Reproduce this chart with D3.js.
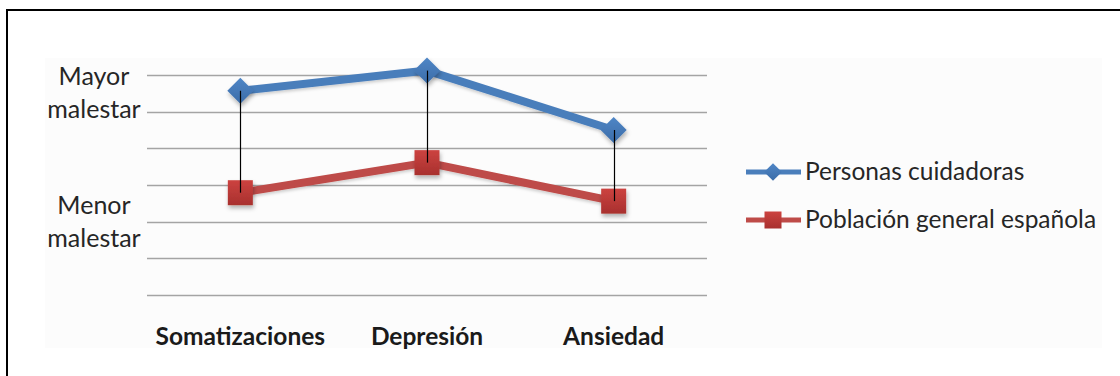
<!DOCTYPE html>
<html>
<head>
<meta charset="utf-8">
<script src="https://cdn.jsdelivr.net/npm/d3@7"></script>
<style>
  html, body { margin: 0; padding: 0; background: #fff; }
  svg { display: block; }
  text { font-family: Lato, "Open Sans", sans-serif; }
</style>
</head>
<body>
<svg id="chart" width="1120" height="376"></svg>
<script>
// Categories along the x axis
const categories = ["Somatizaciones", "Depresión", "Ansiedad"];
// Series values (relative distress level, in gridline units)
const cuidadoras = [5.57, 6.12, 4.5];
const poblacion = [2.79, 3.61, 2.56];
const seriesNames = ["Personas cuidadoras", "Población general española"];
// Gridline positions on the value axis
const gridValues = [0, 1, 2, 3, 4, 5, 6];
// Qualitative axis labels and the level each one sits at
const levelLabels = [["Mayor", "malestar"], ["Menor", "malestar"]];
const levelValues = [5.5, 2];

const svg = d3.select("#chart");
const W = 1120, H = 376;

const x = d3.scalePoint().domain(categories).range([147, 707]).padding(0.5);
const y = d3.scaleLinear().domain([0, 6]).range([295, 75]);

const blue = "#4a7ebb", red = "#be4b48";

const defs = svg.append("defs");
const shadow = defs.append("filter").attr("id", "shadow")
  .attr("x", "-50%").attr("y", "-50%").attr("width", "200%").attr("height", "200%");
shadow.append("feDropShadow").attr("dx", 1).attr("dy", 3).attr("stdDeviation", 2)
  .attr("flood-color", "#000").attr("flood-opacity", 0.3);
const lineShadow = defs.append("filter").attr("id", "lineShadow")
  .attr("x", "-10%").attr("y", "-50%").attr("width", "120%").attr("height", "200%");
lineShadow.append("feDropShadow").attr("dx", 0).attr("dy", 2).attr("stdDeviation", 1.5)
  .attr("flood-color", "#000").attr("flood-opacity", 0.18);

const gBlue = defs.append("linearGradient").attr("id", "gBlue").attr("x1", 0).attr("y1", 0).attr("x2", 0).attr("y2", 1);
gBlue.append("stop").attr("offset", "0%").attr("stop-color", "#4f86c6");
gBlue.append("stop").attr("offset", "100%").attr("stop-color", "#3b6ca8");
const gRed = defs.append("linearGradient").attr("id", "gRed").attr("x1", 0).attr("y1", 0).attr("x2", 0).attr("y2", 1);
gRed.append("stop").attr("offset", "0%").attr("stop-color", "#cc4340");
gRed.append("stop").attr("offset", "100%").attr("stop-color", "#a8302e");

// chart area background
svg.append("rect").attr("x", 45).attr("y", 58).attr("width", 1057).attr("height", 290)
  .attr("fill", "#fcfcfc");

// outer frame (top and left edges)
svg.append("path").attr("d", `M7,${H} V10 H${W}`)
  .attr("fill", "none").attr("stroke", "#000").attr("stroke-width", 2);

// horizontal gridlines
svg.append("g").selectAll("line").data(gridValues).join("line")
  .attr("x1", 147).attr("x2", 707)
  .attr("y1", d => Math.round(y(d)) + 0.5).attr("y2", d => Math.round(y(d)) + 0.5)
  .attr("stroke", "#a4a4a4").attr("stroke-width", 1.4);

// category axis labels
svg.append("g").selectAll("text").data(categories).join("text")
  .attr("x", d => x(d)).attr("y", 345)
  .attr("text-anchor", "middle")
  .attr("font-weight", "bold").attr("font-size", 24.5)
  .attr("fill", "#1a1a1a")
  .text(d => d);

// level labels on the value axis
const lvl = svg.append("g").selectAll("text").data(levelLabels).join("text")
  .attr("text-anchor", "middle").attr("font-size", 25).attr("fill", "#262626")
  .attr("y", (d, i) => y(levelValues[i]) - 8);
lvl.selectAll("tspan").data(d => d).join("tspan")
  .attr("x", 94).attr("dy", (d, i) => i === 0 ? 0 : 33)
  .text(d => d);

const series = [
  { name: seriesNames[0], values: cuidadoras, color: blue, fill: "url(#gBlue)", shape: "diamond" },
  { name: seriesNames[1], values: poblacion, color: red, fill: "url(#gRed)", shape: "square" }
];

const line = d3.line().x((d, i) => x(categories[i])).y(d => y(d));

function marker(g, shape, fill) {
  if (shape === "diamond") {
    g.append("path").attr("d", "M0,-13 L13,0 L0,13 L-13,0 Z").attr("fill", fill);
  } else {
    g.append("rect").attr("x", -12.5).attr("y", -12.5).attr("width", 25).attr("height", 25)
      .attr("fill", fill);
  }
}

series.forEach(s => {
  svg.append("path").datum(s.values).attr("d", line)
    .attr("fill", "none").attr("stroke", s.color).attr("stroke-width", 8)
    .attr("stroke-linejoin", "round").attr("filter", "url(#lineShadow)");
});
series.forEach(s => {
  s.values.forEach((v, i) => {
    const g = svg.append("g").attr("transform", `translate(${x(categories[i])},${y(v)})`)
      .attr("filter", "url(#shadow)");
    marker(g, s.shape, s.fill);
  });
});

// high-low lines joining both series at each category
svg.append("g").selectAll("line").data(categories).join("line")
  .attr("x1", d => Math.round(x(d)) + 0.5).attr("x2", d => Math.round(x(d)) + 0.5)
  .attr("y1", (d, i) => y(cuidadoras[i])).attr("y2", (d, i) => y(poblacion[i]))
  .attr("stroke", "#000").attr("stroke-width", 1.2);

// legend
const legendY = [172, 220];
series.forEach((s, i) => {
  const g = svg.append("g").attr("transform", `translate(0,${legendY[i]})`);
  g.append("line").attr("x1", 746).attr("x2", 801).attr("y1", 0).attr("y2", 0)
    .attr("stroke", s.color).attr("stroke-width", 5);
  const m = g.append("g").attr("transform", "translate(773,0) scale(0.68)");
  marker(m, s.shape, s.fill);
  g.append("text").attr("x", 805).attr("y", 8).attr("font-size", 24.5).attr("fill", "#262626")
    .text(s.name);
});
</script>
</body>
</html>
